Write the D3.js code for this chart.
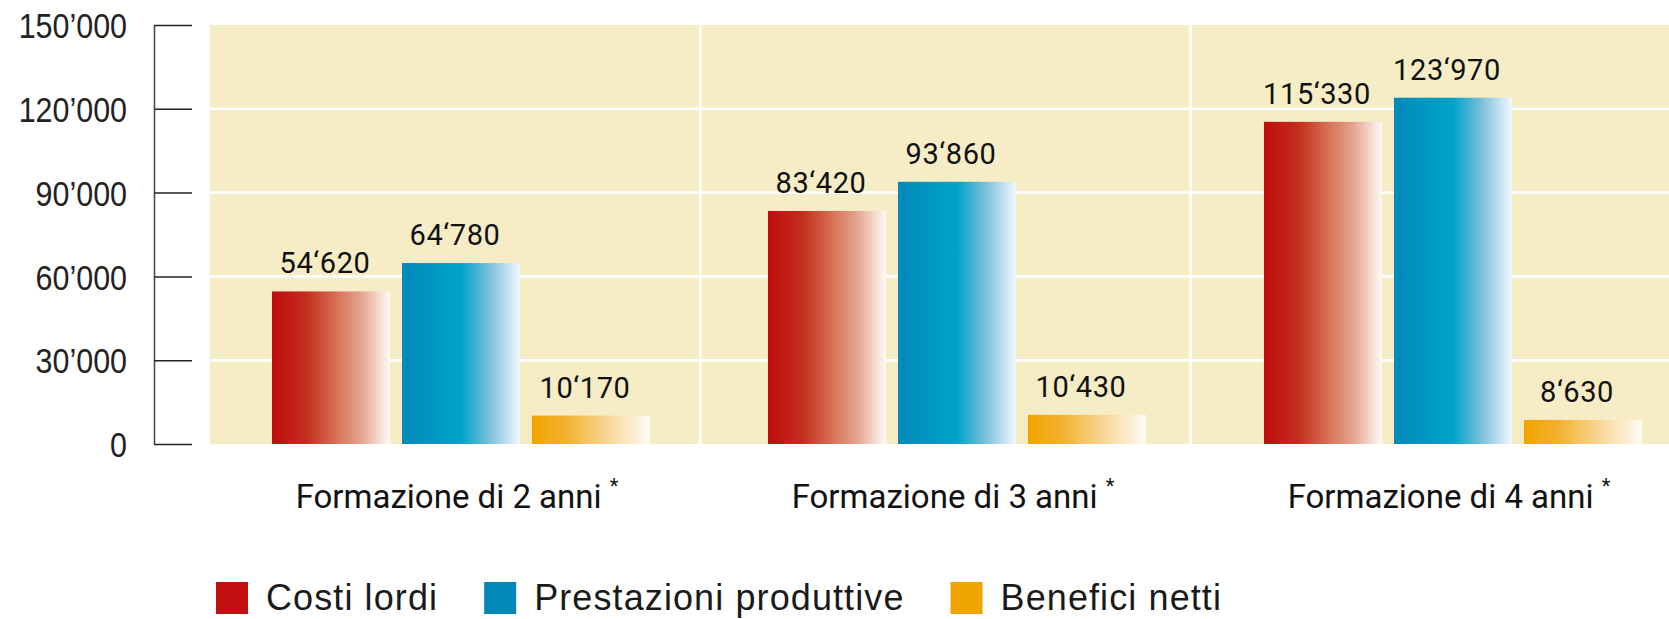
<!DOCTYPE html>
<html>
<head>
<meta charset="utf-8">
<script src="https://cdn.jsdelivr.net/npm/d3@7"></script>
<style>
  body { margin: 0; background: #fff; }
  .tick-label { font-family: "Liberation Sans", Arial, sans-serif; font-size: 35px; fill: #222; }
  .value-label { font-family: Roboto, "Noto Sans", sans-serif; font-size: 29px; fill: #111; letter-spacing: 0.6px; }
  .cat-label { font-family: Roboto, "Noto Sans", sans-serif; font-size: 33px; fill: #111; }
  .legend-label { font-family: "Liberation Sans", Arial, sans-serif; font-size: 36px; fill: #1a1a1a; letter-spacing: 1.1px; }
</style>
</head>
<body>
<svg id="chart"></svg>
<script>
// chart data
const categories = ['Formazione di 2 anni', 'Formazione di 3 anni', 'Formazione di 4 anni'];
const seriesNames = ['Costi lordi', 'Prestazioni produttive', 'Benefici netti'];
const costiLordi = [54620, 83420, 115330];
const prestazioniProduttive = [64780, 93860, 123970];
const beneficiNetti = [10170, 10430, 8630];
const yTicks = [0, 30000, 60000, 90000, 120000, 150000];

const seriesValues = [costiLordi, prestazioniProduttive, beneficiNetti];

const config = {
  width: 1669,
  height: 619,
  plotLeft: 210,
  plotRight: 1669,
  plotTop: 25,
  plotBottom: 444,
  axisX: 154,
  tickLen: 38,
  tickSquash: 0.87
};

// gradient colours for each series: left -> right
const gradients = [
  ['#c00c0e', '#c42f1e', '#d4654a', '#e4a28c', '#fffaf7'],
  ['#0088b8', '#009ac4', '#00a3c8', '#7fc0dd', '#f2f9ff'],
  ['#f0a400', '#f2b232', '#f6c86c', '#fae2b4', '#fffbf2']
];
const gradOffsets = [0, 0.3, 0.5, 0.75, 1];
const legendColors = ['#c20f12', '#0089b8', '#f0a500'];

const svg = d3.select('#chart')
    .attr('width', config.width)
    .attr('height', config.height);

const defs = svg.append('defs');
gradients.forEach((stops, i) => {
  const g = defs.append('linearGradient')
      .attr('id', `grad${i}`)
      .attr('x1', '0%').attr('x2', '100%')
      .attr('y1', '0%').attr('y2', '0%');
  stops.forEach((c, j) => {
    g.append('stop').attr('offset', gradOffsets[j]).attr('stop-color', c);
  });
});

// scales
const yScale = d3.scaleLinear()
    .domain([0, 150000])
    .range([config.plotBottom, config.plotTop]);

// background cells (vertical separators between groups)
const cellScale = d3.scaleBand()
    .domain(categories)
    .range([config.plotLeft, 1681]);

// bar groups
const xScale = d3.scaleBand()
    .domain(categories)
    .range([213, 1701]);

const innerScale = d3.scaleBand()
    .domain(seriesNames)
    .range([-189, 189])
    .paddingInner(12 / 130);

// plot background
const plotG = svg.append('g').attr('clip-path', 'url(#plotClip)');
defs.append('clipPath').attr('id', 'plotClip')
  .append('rect')
    .attr('x', config.plotLeft)
    .attr('y', config.plotTop)
    .attr('width', config.plotRight - config.plotLeft)
    .attr('height', config.plotBottom - config.plotTop);

plotG.append('rect')
    .attr('x', config.plotLeft)
    .attr('y', config.plotTop)
    .attr('width', config.plotRight - config.plotLeft)
    .attr('height', config.plotBottom - config.plotTop)
    .attr('fill', '#f6ecc5');

// horizontal gridlines
plotG.selectAll('.hgrid')
  .data(yTicks.filter(d => d > 0 && d < 150000))
  .join('line')
    .attr('class', 'hgrid')
    .attr('x1', config.plotLeft)
    .attr('x2', config.plotRight)
    .attr('y1', d => yScale(d))
    .attr('y2', d => yScale(d))
    .attr('stroke', '#fff')
    .attr('stroke-width', 2.5);

// vertical separators
plotG.selectAll('.vgrid')
  .data(categories.slice(1))
  .join('line')
    .attr('class', 'vgrid')
    .attr('x1', d => cellScale(d))
    .attr('x2', d => cellScale(d))
    .attr('y1', config.plotTop)
    .attr('y2', config.plotBottom)
    .attr('stroke', '#fff')
    .attr('stroke-width', 2.5);

// y axis
const yAxis = d3.axisRight(yScale)
    .tickValues(yTicks)
    .tickSize(config.tickLen)
    .tickSizeOuter(0)
    .tickFormat(d => d === 0 ? '0' : d3.format(',')(d).replace(/,/g, '\u2019'));

const yAxisG = svg.append('g')
    .attr('transform', `translate(${config.axisX},0)`)
    .call(yAxis);
yAxisG.attr('font-size', null).attr('font-family', null);
yAxisG.select('.domain').attr('stroke', '#444').attr('stroke-width', 1.5);
yAxisG.selectAll('.tick line').attr('stroke', '#222').attr('stroke-width', 1.5);
// labels sit left of the axis, slightly condensed like the original
yAxisG.selectAll('.tick text')
    .attr('class', 'tick-label')
    .attr('fill', null)
    .attr('x', -27 / config.tickSquash)
    .attr('dy', '0.36em')
    .attr('transform', `scale(${config.tickSquash},1)`)
    .attr('text-anchor', 'end');

// bars
const barData = [];
categories.forEach((cat, ci) => {
  seriesNames.forEach((s, si) => {
    barData.push({cat: cat, series: s, si: si, value: seriesValues[si][ci]});
  });
});

const fmt = v => d3.format(',')(v).replace(/,/g, '\u2018');

const barG = svg.append('g');
barG.selectAll('rect')
  .data(barData)
  .join('rect')
    .attr('x', d => xScale(d.cat) + xScale.bandwidth() / 2 + innerScale(d.series))
    .attr('y', d => yScale(d.value))
    .attr('width', innerScale.bandwidth())
    .attr('height', d => yScale(0) - yScale(d.value))
    .attr('fill', d => `url(#grad${d.si})`);

barG.selectAll('text')
  .data(barData)
  .join('text')
    .attr('class', 'value-label')
    .attr('x', d => xScale(d.cat) + xScale.bandwidth() / 2 + innerScale(d.series) + innerScale.bandwidth() / 2 - 6)
    .attr('y', d => yScale(d.value) - 18)
    .attr('text-anchor', 'middle')
    .text(d => fmt(d.value));

// category labels
const catG = svg.append('g');
const catText = catG.selectAll('text')
  .data(categories)
  .join('text')
    .attr('class', 'cat-label')
    .attr('x', d => xScale(d) + xScale.bandwidth() / 2 - 4)
    .attr('y', 508)
    .attr('text-anchor', 'middle');
catText.append('tspan').text(d => d + ' ');
catText.append('tspan')
    .attr('font-size', 20)
    .attr('dy', -15)
    .text('*');

// legend
const legendG = svg.append('g').attr('transform', 'translate(216,582)');
let lx = 0;
seriesNames.forEach((s, i) => {
  legendG.append('rect')
      .attr('x', lx)
      .attr('y', 0)
      .attr('width', 32)
      .attr('height', 32)
      .attr('fill', legendColors[i]);
  const t = legendG.append('text')
      .attr('class', 'legend-label')
      .attr('x', lx + 50)
      .attr('y', 28)
      .text(s);
  lx += 50 + t.node().getComputedTextLength() + 46;
});
</script>
</body>
</html>
